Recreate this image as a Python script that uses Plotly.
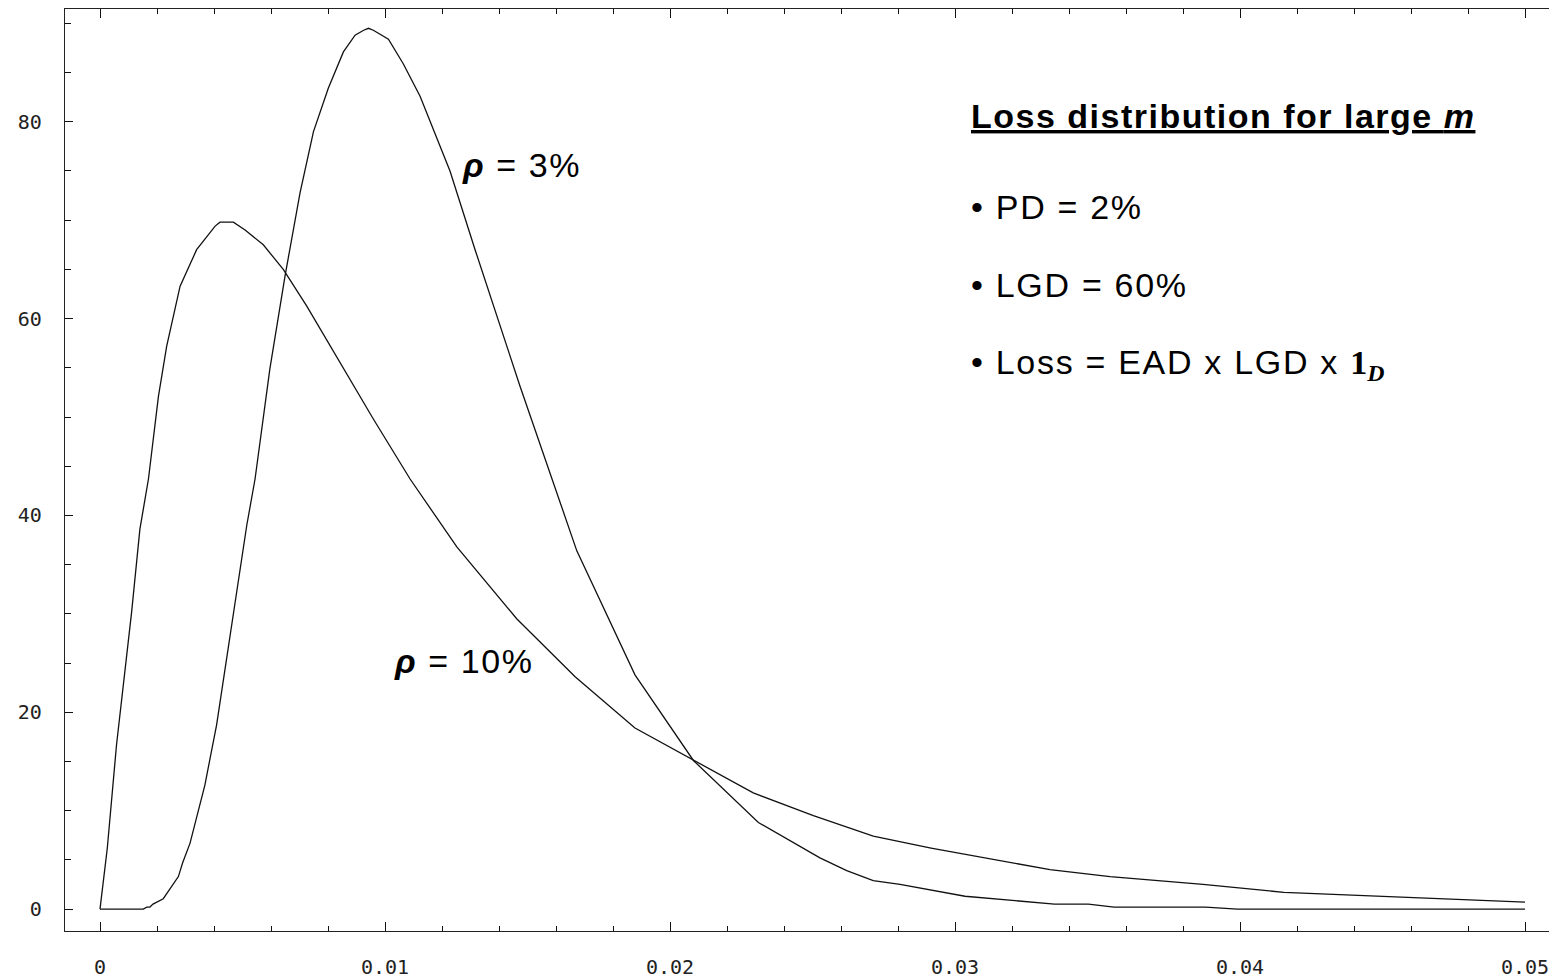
import plotly.graph_objects as go

# Loss density for a large homogeneous portfolio, two asset correlations
rho3_loss = [0, 0.00152, 0.00164, 0.00175, 0.00186, 0.00222, 0.00275, 0.0029, 0.00316,
             0.00368, 0.00409, 0.00468, 0.00515, 0.00544, 0.00596, 0.00649, 0.00702,
             0.00749, 0.00801, 0.00854, 0.00895, 0.00925, 0.00942, 0.00959, 0.00985,
             0.01012, 0.01064, 0.01123, 0.01228, 0.01316, 0.01474, 0.01673, 0.01877,
             0.02082, 0.0231, 0.02526, 0.0262, 0.02713, 0.02807, 0.03035, 0.03349,
             0.03468, 0.03558, 0.03879, 0.03991, 0.05]
rho3_density = [0, 0, 0.2, 0.2, 0.5, 1.05, 3.3, 4.7, 6.7,
                12.6, 18.7, 30.2, 39.0, 43.7, 54.9, 64.3, 72.8,
                79.0, 83.4, 87.1, 88.8, 89.3, 89.5, 89.3, 88.9,
                88.4, 85.9, 82.6, 75.0, 67.0, 53.1, 36.4, 23.8,
                15.1, 8.8, 5.2, 3.9, 2.9, 2.5, 1.3, 0.5,
                0.5, 0.2, 0.2, 0, 0]

rho10_loss = [0, 0.000257, 0.00058, 0.00111, 0.0014, 0.0017, 0.00205, 0.00234, 0.00281,
              0.00339, 0.00404, 0.00421, 0.00468, 0.00509, 0.00573, 0.00643, 0.00725,
              0.00842, 0.00959, 0.01088, 0.01123, 0.01252, 0.01462, 0.01667, 0.01877,
              0.02082, 0.02292, 0.02503, 0.02713, 0.02916, 0.03333, 0.03544, 0.0387,
              0.04154, 0.0459, 0.05]
rho10_density = [0, 6.2, 16.7, 30.2, 38.6, 43.7, 52.1, 57.2, 63.3,
                 67.0, 69.4, 69.8, 69.8, 69.0, 67.5, 65.0, 61.3,
                 55.5, 49.8, 43.7, 42.2, 36.8, 29.5, 23.6, 18.4,
                 15.1, 11.8, 9.5, 7.4, 6.2, 4.0, 3.3, 2.5,
                 1.7, 1.2, 0.7]

x_tick_vals = [0, 0.01, 0.02, 0.03, 0.04, 0.05]
x_tick_text = ["0", "0.01", "0.02", "0.03", "0.04", "0.05"]
y_tick_vals = [0, 20, 40, 60, 80]
y_tick_text = ["0", "20", "40", "60", "80"]

line_style = dict(color="#111111", width=1.3)

fig = go.Figure()
fig.add_trace(go.Scatter(x=rho3_loss, y=rho3_density, mode="lines", line=line_style,
                         showlegend=False, hoverinfo="skip"))
fig.add_trace(go.Scatter(x=rho10_loss, y=rho10_density, mode="lines", line=line_style,
                         showlegend=False, hoverinfo="skip"))

tick_font = dict(family="DejaVu Sans Mono", size=20, color="#222222")
sans = "Liberation Sans, Arial, sans-serif"

fig.update_xaxes(
    range=[-0.001228, 0.05084],
    tickmode="array", tickvals=x_tick_vals, ticktext=x_tick_text,
    ticks="inside", ticklen=9, tickwidth=1.3, tickcolor="#111",
    showline=True, linecolor="#222", linewidth=1.3, mirror="allticks",
    showgrid=False, zeroline=False,
    minor=dict(ticks="inside", ticklen=5, tickwidth=1.2, tickcolor="#111",
               tickmode="linear", tick0=0, dtick=0.002, showgrid=False),
    tickfont=tick_font, ticklabelstandoff=18, ticklabeloverflow="allow",
)
fig.update_yaxes(
    range=[-2.23, 91.46],
    tickmode="array", tickvals=y_tick_vals, ticktext=y_tick_text,
    ticks="inside", ticklen=8, tickwidth=1.3, tickcolor="#111",
    showline=True, linecolor="#222", linewidth=1.3, mirror=False,
    showgrid=False, zeroline=False,
    minor=dict(ticks="inside", ticklen=6, tickwidth=1.2, tickcolor="#111",
               tickmode="linear", tick0=0, dtick=5, showgrid=False),
    tickfont=tick_font, ticklabelstandoff=18, ticklabeloverflow="allow",
)


def spaced(text, px):
    return f'<span style="letter-spacing:{px}px">{text}</span>'


serif_one = ("<span style=\"font-family:'Liberation Serif','Times New Roman',serif\">"
             "<b>1</b><sub><b><i>D</i></b></sub></span>")

annotations = [
    dict(x=0.01263, y=75.6, text=spaced("<b><i>ρ</i></b> = 3%", 1.6), size=34),
    dict(x=0.01024, y=25.2, text=spaced("<b><i>ρ</i></b> = 10%", 1.6), size=34),
    dict(x=0.0305, y=80.6,
         text=spaced("<u><b>Loss distribution for large <i>m</i></b></u>", 1.5), size=34),
    dict(x=0.0305, y=71.3, text=spaced("• PD = 2%", 1.7), size=34),
    dict(x=0.0305, y=63.4, text=spaced("• LGD = 60%", 1.7), size=34),
    dict(x=0.0305, y=55.3, text=spaced("• Loss = EAD x LGD x ", 1.7) + serif_one, size=34),
]
for a in annotations:
    fig.add_annotation(x=a["x"], y=a["y"], xref="x", yref="y", text=a["text"],
                       showarrow=False, xanchor="left", yanchor="middle",
                       font=dict(family=sans, size=a["size"], color="#000"))

fig.update_layout(
    width=1549, height=979,
    margin=dict(l=65, r=0, t=9, b=46),
    paper_bgcolor="white", plot_bgcolor="white",
)

fig.write_html("out.html")
